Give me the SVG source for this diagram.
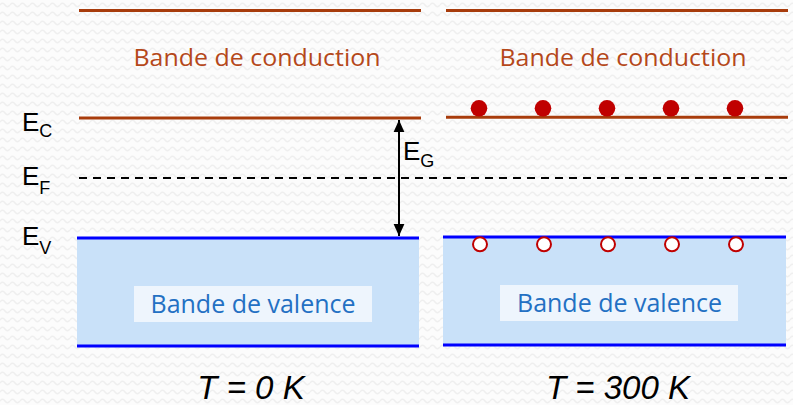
<svg xmlns="http://www.w3.org/2000/svg" width="793" height="405" viewBox="0 0 793 405">
<defs>
<pattern id="bg" width="10" height="9" patternUnits="userSpaceOnUse">
<rect width="10" height="9" fill="#fcfcfc"/>
<path d="M0,5 Q2.5,1.5 5,5 T10,5" fill="none" stroke="#efefef" stroke-width="1.4"/>
</pattern>
<marker id="ah" viewBox="0 0 10 10" refX="10" refY="5" markerWidth="6" markerHeight="6" orient="auto-start-reverse" markerUnits="strokeWidth">
<path d="M0,0.5 L10,5 L0,9.5 z" fill="#000"/>
</marker>
<style>
.cb{stroke:#A83C0C;stroke-width:3;fill:none}
.vb{stroke:#0000FF;stroke-width:3;fill:none}
.band{fill:#C9E1F9}
.lbl{fill:#EEF5FD}
.ct{font-family:"Open Sans",sans-serif;font-size:24px;fill:#B5481A;text-anchor:middle}
.vt{font-family:"Open Sans",sans-serif;font-size:25px;fill:#2370C3;text-anchor:middle}
.en{font-family:"Liberation Sans",Arial,sans-serif;font-size:26px;fill:#000}
.sub{font-size:18px}
.temp{font-family:"Liberation Sans",Arial,sans-serif;font-size:33px;font-style:italic;fill:#000;text-anchor:middle}
.el{fill:#C00000}
.hole{fill:#fff;stroke:#C00000;stroke-width:2}
</style>
</defs>
<rect width="793" height="405" fill="url(#bg)"/>

<g id="left-valence-band">
<rect class="band" x="77" y="238" width="342" height="108"/>
<line class="vb" x1="77" y1="238" x2="419" y2="238"/>
<line class="vb" x1="77" y1="346" x2="419" y2="346"/>
<rect class="lbl" x="134" y="286" width="238" height="36"/>
<text class="vt" x="253" y="313" textLength="205" lengthAdjust="spacingAndGlyphs">Bande de valence</text>
</g>

<g id="right-valence-band">
<rect class="band" x="443" y="237" width="343" height="108"/>
<line class="vb" x1="443" y1="237" x2="786" y2="237"/>
<line class="vb" x1="443" y1="345" x2="786" y2="345"/>
<rect class="lbl" x="500" y="285" width="238" height="36"/>
<text class="vt" x="619.5" y="312" textLength="205" lengthAdjust="spacingAndGlyphs">Bande de valence</text>
</g>

<g id="left-conduction-band">
<line class="cb" x1="79" y1="10.5" x2="421" y2="10.5"/>
<line class="cb" x1="79" y1="118" x2="421" y2="118"/>
<text class="ct" x="257" y="66" textLength="247" lengthAdjust="spacingAndGlyphs">Bande de conduction</text>
</g>

<g id="right-conduction-band">
<line class="cb" x1="446" y1="10.5" x2="788" y2="10.5"/>
<line class="cb" x1="446" y1="117.3" x2="788" y2="117.3"/>
<text class="ct" x="623" y="66" textLength="247" lengthAdjust="spacingAndGlyphs">Bande de conduction</text>
</g>

<g id="fermi-level">
<line x1="79" y1="178" x2="788" y2="178" stroke="#000" stroke-width="2" stroke-dasharray="8,6"/>
</g>

<g id="electrons">
<circle class="el" cx="479" cy="108.3" r="8.3"/>
<circle class="el" cx="543" cy="108.3" r="8.3"/>
<circle class="el" cx="607" cy="108.3" r="8.3"/>
<circle class="el" cx="671" cy="108.3" r="8.3"/>
<circle class="el" cx="735" cy="108.3" r="8.3"/>
</g>

<g id="holes">
<circle class="hole" cx="480" cy="244.3" r="7"/>
<circle class="hole" cx="544" cy="244.3" r="7"/>
<circle class="hole" cx="608" cy="244.3" r="7"/>
<circle class="hole" cx="672" cy="244.3" r="7"/>
<circle class="hole" cx="736" cy="244.3" r="7"/>
</g>

<g id="connectors">
<line x1="399" y1="120" x2="399" y2="236" stroke="#000" stroke-width="2" marker-start="url(#ah)" marker-end="url(#ah)"/>
</g>

<g id="labels">
<text class="en" x="22" y="131">E<tspan class="sub" dy="6">C</tspan></text>
<text class="en" x="22" y="185">E<tspan class="sub" dy="9">F</tspan></text>
<text class="en" x="22" y="245">E<tspan class="sub" dy="9">V</tspan></text>
<text class="en" x="403" y="160">E<tspan class="sub" dy="6.5">G</tspan></text>
<text class="temp" x="251" y="399">T = 0 K</text>
<text class="temp" x="618" y="399">T = 300 K</text>
</g>
</svg>
